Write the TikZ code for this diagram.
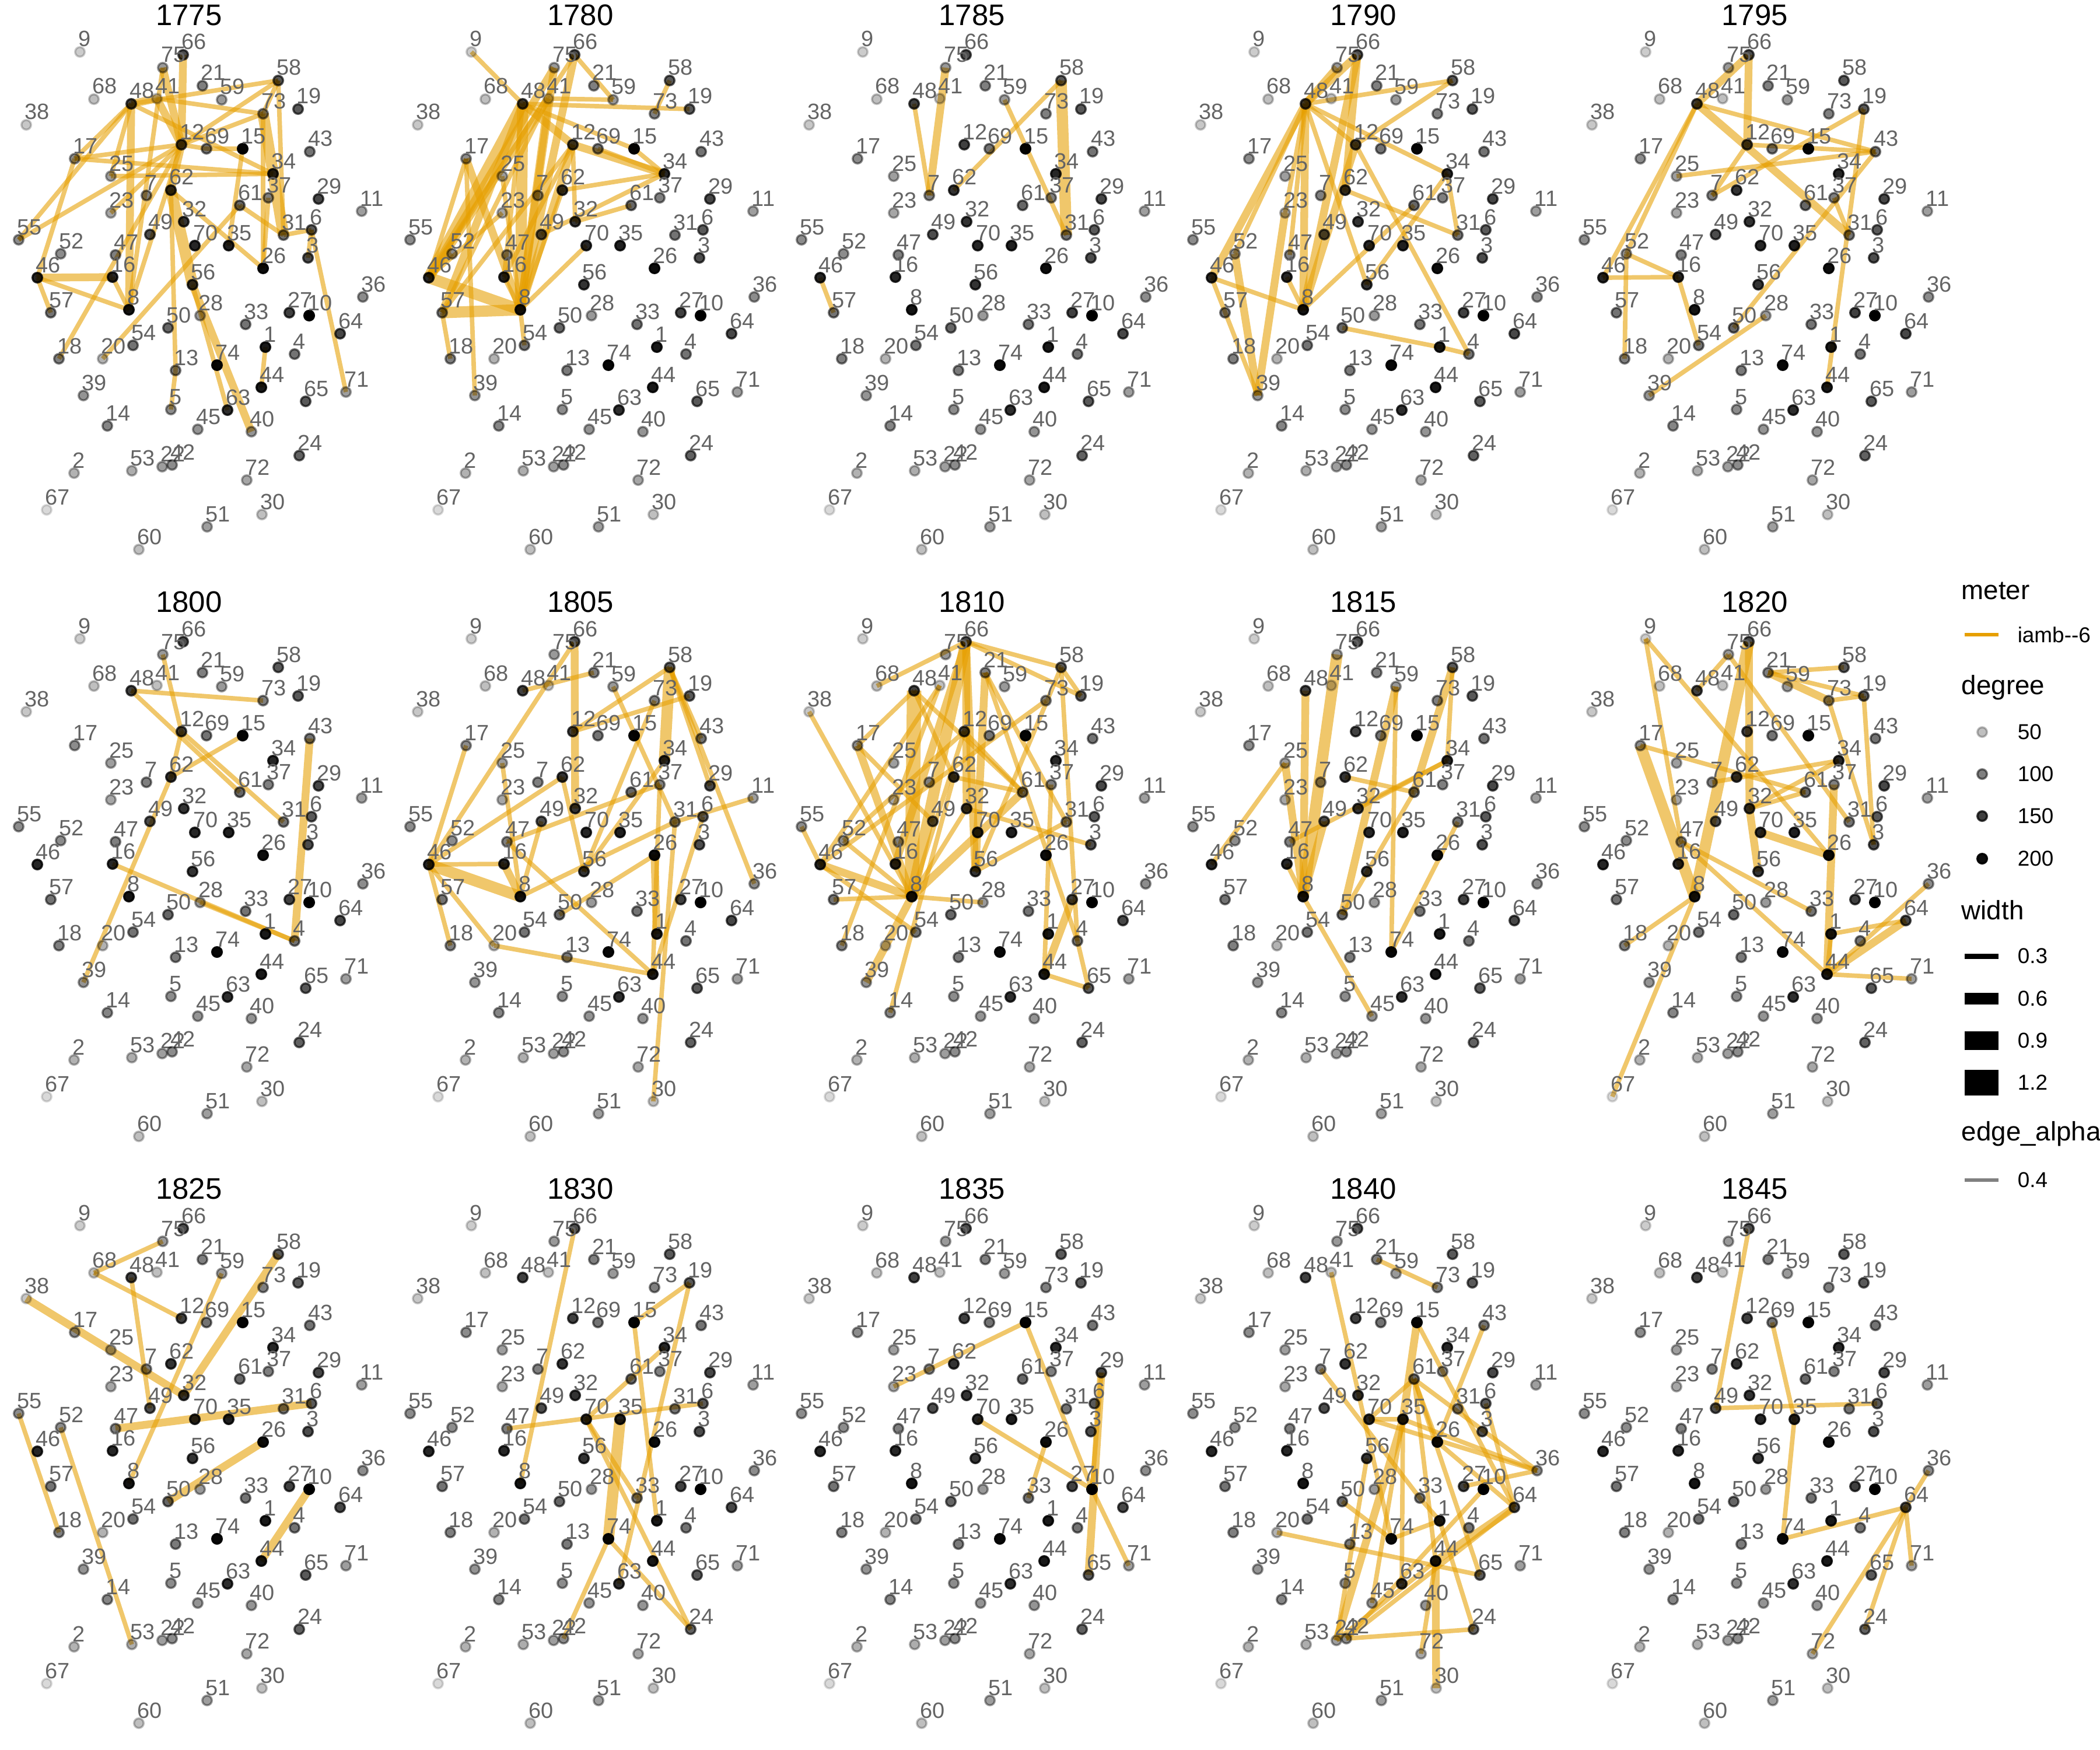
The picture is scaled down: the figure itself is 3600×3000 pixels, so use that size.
\documentclass[tikz,border=0pt]{standalone}
\usepackage{fontspec}
\setmainfont{Liberation Sans}
\usetikzlibrary{positioning}
\definecolor{iambor}{HTML}{E69F00}
\definecolor{lblgray}{HTML}{646464}
\pgfdeclarelayer{edges}
\pgfsetlayers{edges,main}

\tikzset{
  vertex/.style={circle, draw=black, fill=black, line width=1pt, minimum size=0.165cm, inner sep=0pt},
  vlabel/.style={anchor=base west, inner sep=0pt, text=lblgray, font=\fontsize{10.8}{10.8}\selectfont},
  edge/.style={draw=iambor, opacity=0.58},
  paneltitle/.style={inner sep=0pt, font=\fontsize{14.5}{14.5}\selectfont},
  legtitle/.style={anchor=west, inner sep=0pt, font=\fontsize{13}{13}\selectfont},
  leglabel/.style={anchor=west, inner sep=0pt, font=\fontsize{10.5}{10.5}\selectfont},
}

%% node layout (same in every panel): name / dx from title / dy from panel top / alpha
\def\nodexy{9/-187/89/.2, 66/-10/94/.7, 75/-45/116/.4, 21/23/147/.5, 58/153/138/.65,
  68/-163/170/.25, 48/-99/178/.75, 41/-55/169/.25, 59/56/171/.4, 73/127/195/.5,
  19/187/187/.65, 38/-279/214/.22, 12/-13/248/.75, 69/30/255/.55, 15/92/255/.98,
  43/207/260/.55, 17/-196/272/.45, 25/-134/302/.38, 34/144/298/.85, 7/-73/335/.5,
  62/-31/326/.8, 61/87/352/.6, 37/136/339/.5, 29/222/341/.72, 11/296/362/.38,
  23/-134/365/.35, 32/-9/380/.8, 31/162/403/.55, 6/210/394/.65, 55/-292/411/.45,
  49/-67/402/.7, 70/10/421/.85, 35/68/421/.88, 3/204/442/.7, 52/-220/435/.45,
  47/-126/437/.5, 46/-260/476/.85, 16/-131/475/.85, 26/127/460/.95, 56/6/488/.8,
  36/298/509/.45, 57/-237/536/.55, 8/-103/531/.92, 28/19/541/.4, 33/97/556/.55,
  27/172/536/.75, 10/206/541/1, 64/259/572/.72, 50/-36/562/.6, 54/-96/592/.55,
  1/131/595/.9, 4/181/607/.55, 18/-223/615/.5, 20/-148/615/.3, 13/-23/635/.52,
  74/48/626/.97, 44/124/664/.9, 39/-181/678/.42, 65/200/688/.65, 71/269/672/.38,
  5/-31/702/.45, 63/66/703/.82, 45/15/736/.42, 40/107/740/.42, 14/-140/730/.48,
  24/189/781/.62, 2/-197/811/.3, 53/-98/807/.32, 22/-46/800/.38, 42/-29/797/.45,
  72/99/823/.35, 67/-244/874/.15, 30/125/882/.25, 51/31/903/.38, 60/-86/942/.25}

%% one panel: #1 year, #2 title x, #3 panel top, #4 edges (from/to/width in pt)
\newcommand{\yearpanel}[4]{%
  \node[paneltitle] (t#1) at (#2,#3+26) {#1};
  \foreach \nd/\x/\y/\alp in \nodexy {
    \node[vertex, opacity=\alp] (p#1-\nd) at (#2+\x,#3+\y) {};
    \node[vlabel] (l#1-\nd) at (#2+\x-3,#3+\y-9) {\nd};
  }
  \begin{pgfonlayer}{edges}
    \foreach \src/\dst/\wd in {#4}
      \draw[edge, line width=\wd pt] (p#1-\src.center) -- (p#1-\dst.center);
  \end{pgfonlayer}
}

\begin{document}
\begin{tikzpicture}[x=0.01cm, y=-0.01cm]
  \useasboundingbox (0,0) rectangle (3600,3000);

  %% ---- row 1 ----
  \yearpanel{1775}{324}{0}{55/12/2.2, 46/16/3.8, 46/8/2.2, 16/8/2.2, 17/12/2.2, 17/34/2.2,
    17/48/2.2, 25/34/2.2, 48/34/2.2, 48/58/2.2, 48/8/3.8, 41/73/2.2, 75/12/3.8, 66/12/3.8,
    12/58/2.2, 12/73/2.2, 58/73/2.2, 73/31/5.5, 58/31/2.2, 62/56/5.5, 56/40/3.8, 56/63/2.2,
    26/73/2.2, 15/35/2.2, 31/6/2.2, 61/31/2.2, 12/69/2.2, 69/15/2.2, 8/12/2.2, 12/62/3.8,
    75/8/2.2, 48/41/3.8, 41/12/3.8, 62/13/2.2, 5/13/2.2, 57/46/2.2, 25/48/2.2, 23/12/2.2,
    3/6/2.2, 44/1/2.2, 17/46/2.2, 55/48/2.2, 6/71/2.2, 37/26/2.2, 62/26/2.2, 20/61/2.2,
    18/12/2.2}
  \yearpanel{1780}{995}{0}{46/48/5.5, 46/75/3.8, 46/41/3.8, 46/66/2.2, 46/17/2.2, 46/52/2.2,
    46/8/5.5, 57/8/5.5, 57/48/3.8, 57/41/2.2, 57/12/2.2, 57/18/2.2, 8/48/5.5, 8/41/3.8,
    8/75/3.8, 8/66/3.8, 8/12/3.8, 8/62/2.2, 8/17/3.8, 8/25/2.2, 16/8/2.2, 16/48/2.2,
    16/12/2.2, 39/17/2.2, 9/48/2.2, 48/12/3.8, 41/59/2.2, 66/59/2.2, 12/34/3.8, 62/34/2.2,
    69/34/2.2, 15/34/2.2, 48/15/2.2, 58/73/2.2, 48/19/2.2, 34/49/2.2, 32/61/2.2, 8/70/2.2,
    12/32/2.2, 54/8/2.2, 46/23/2.2}
  \yearpanel{1785}{1666}{0}{48/7/2.2, 75/7/3.8, 62/58/2.2, 59/31/2.2, 58/31/5.5, 46/57/2.2}
  \yearpanel{1790}{2337}{0}{48/75/3.8, 48/66/3.8, 48/58/2.2, 48/12/2.2, 48/34/2.2, 48/46/3.8,
    48/52/2.2, 48/8/3.8, 48/23/2.2, 48/56/2.2, 48/47/2.2, 66/62/3.8, 66/8/3.8, 12/8/3.8,
    12/58/2.2, 12/4/2.2, 23/39/3.8, 52/39/3.8, 46/39/2.2, 46/8/2.2, 16/8/2.2, 8/61/2.2,
    56/34/2.2, 62/31/2.2, 34/31/2.2, 50/1/2.2, 1/4/2.2}
  \yearpanel{1795}{3008}{0}{48/66/3.8, 48/31/3.8, 48/43/2.2, 48/46/2.2, 48/52/2.2, 66/12/3.8,
    12/43/2.2, 12/7/2.2, 7/19/2.2, 25/43/2.2, 43/50/2.2, 19/44/2.2, 37/31/2.2, 46/16/2.2,
    52/16/2.2, 52/18/2.2, 16/54/2.2, 39/28/2.2}

  %% ---- row 2 ----
  \yearpanel{1800}{324}{1006}{48/73/2.2, 48/61/2.2, 75/12/2.2, 12/62/2.2, 62/15/2.2,
    62/39/2.2, 16/4/2.2, 28/4/2.2, 43/4/3.8, 12/31/2.2}
  \yearpanel{1805}{995}{1006}{66/32/3.8, 46/66/2.2, 48/21/2.2, 12/58/2.2, 12/19/2.2,
    58/34/5.5, 37/44/2.2, 26/1/3.8, 58/43/2.2, 58/36/2.2, 58/29/2.2, 73/56/2.2, 34/56/2.2,
    59/31/2.2, 31/30/2.2, 31/11/2.2, 6/44/2.2, 31/8/2.2, 47/37/2.2, 47/44/2.2, 20/44/2.2,
    46/20/2.2, 46/18/2.2, 46/17/2.2, 46/62/2.2, 46/16/2.2, 46/8/5.5, 16/8/3.8, 25/8/2.2,
    49/8/2.2, 62/56/2.2, 50/26/2.2}
  \yearpanel{1810}{1666}{1006}{68/66/2.2, 66/58/2.2, 66/19/2.2, 66/8/5.5, 66/16/3.8,
    66/56/3.8, 66/32/3.8, 12/61/2.2, 21/4/2.2, 21/56/3.8, 41/46/2.2, 48/17/2.2, 48/8/7,
    48/61/2.2, 48/62/2.2, 38/8/2.2, 17/8/3.8, 17/49/2.2, 55/46/2.2, 46/8/3.8, 46/54/2.2,
    46/73/2.2, 52/8/2.2, 52/12/2.2, 57/8/2.2, 8/28/2.2, 8/39/3.8, 14/62/2.2, 18/41/2.2,
    8/12/2.2, 8/61/3.8, 8/32/2.2, 56/58/2.2, 56/31/2.2, 32/3/2.2, 62/61/2.2, 58/4/2.2,
    4/65/2.2, 21/31/2.2, 37/44/2.2, 44/65/2.2, 44/27/3.8, 58/19/2.2}
  \yearpanel{1815}{2337}{1006}{48/8/3.8, 75/8/5.5, 25/46/2.2, 25/8/3.8, 16/8/2.2, 8/45/2.2,
    47/34/2.2, 49/8/3.8, 62/61/2.2, 59/50/3.8, 59/74/2.2, 58/61/3.8, 58/34/2.2, 34/32/2.2,
    61/50/2.2, 31/74/2.2}
  \yearpanel{1820}{3008}{1006}{9/47/2.2, 9/26/2.2, 75/48/2.2, 66/8/5.5, 66/32/3.8, 32/56/3.8,
    75/31/2.2, 21/58/2.2, 21/73/3.8, 21/19/2.2, 73/19/2.2, 73/3/2.2, 19/3/2.2, 17/8/5.5,
    17/61/2.2, 7/34/2.2, 32/34/2.2, 32/61/2.2, 70/26/3.8, 37/44/3.8, 47/33/2.2, 47/44/2.2,
    8/18/2.2, 8/67/2.2, 1/64/2.2, 44/36/2.2, 44/64/3.8, 44/71/2.2, 44/1/2.2}

  %% ---- row 3 ----
  \yearpanel{1825}{324}{2012}{75/68/2.2, 68/12/2.2, 38/32/3.8, 48/49/2.2, 59/8/2.2,
    58/32/3.8, 47/6/3.8, 55/18/2.2, 52/53/2.2, 50/26/3.8, 44/10/3.8}
  \yearpanel{1830}{995}{2012}{66/8/2.2, 19/15/2.2, 19/63/2.2, 15/1/2.2, 34/70/2.2, 47/6/2.2,
    35/74/5.5, 70/33/2.2, 70/24/2.2, 74/42/2.2, 74/24/2.2}
  \yearpanel{1835}{1666}{2012}{23/15/2.2, 15/10/2.2, 70/10/2.2, 29/65/3.8, 26/33/2.2,
    10/71/2.2, 29/10/2.2}
  \yearpanel{1840}{2337}{2012}{21/73/2.2, 41/74/2.2, 15/35/3.8, 35/22/3.8, 15/64/2.2,
    43/26/2.2, 7/33/2.2, 33/1/2.2, 70/61/2.2, 70/35/2.2, 70/36/2.2, 61/26/2.2, 61/36/2.2,
    61/65/2.2, 61/44/2.2, 35/36/2.2, 35/45/2.2, 35/63/2.2, 6/64/2.2, 26/64/2.2, 1/24/2.2,
    27/36/2.2, 64/44/3.8, 64/42/2.2, 10/42/2.2, 20/65/2.2, 50/74/2.2, 74/1/2.2, 44/30/3.8,
    44/72/2.2, 44/22/2.2, 42/24/2.2, 56/22/2.2}
  \yearpanel{1845}{3008}{2012}{66/49/2.2, 69/35/2.2, 49/6/2.2, 35/74/2.2, 74/64/2.2,
    64/36/2.2, 64/71/2.2, 64/72/2.2, 64/24/2.2}

  %% ---- legend ----
  \node[legtitle] (kmeter) at (3362,1013) {meter};
  \draw[iambor, line width=1.6pt] (3368,1088) -- (3426,1088);
  \node[leglabel] (kiamb) at (3458,1088) {iamb-{}-6};

  \node[legtitle] (kdegree) at (3362,1179) {degree};
  \foreach \yy/\alp/\lab in {1255/.25/50, 1327/.5/100, 1399/.75/150, 1472/.95/200} {
    \node[vertex, opacity=\alp] (kdot\lab) at (3398,\yy) {};
    \node[leglabel] (kdeg\lab) at (3458,\yy) {\lab};
  }

  \node[legtitle] (kwidth) at (3362,1560) {width};
  \foreach \yy/\hh/\lab in {1639/9/0.3, 1712/20/0.6, 1784/32/0.9, 1856/44/1.2} {
    \fill[black] (3368,\yy-\hh/2) rectangle (3426,\yy+\hh/2);
    \node[leglabel] at (3458,\yy) {\lab};
  }

  \node[legtitle] (kalpha) at (3362,1944) {edge\_alpha};
  \draw[black!50, line width=1.6pt] (3368,2023) -- (3426,2023);
  \node[leglabel] (kalphaval) at (3458,2023) {0.4};

\end{tikzpicture}
\end{document}
